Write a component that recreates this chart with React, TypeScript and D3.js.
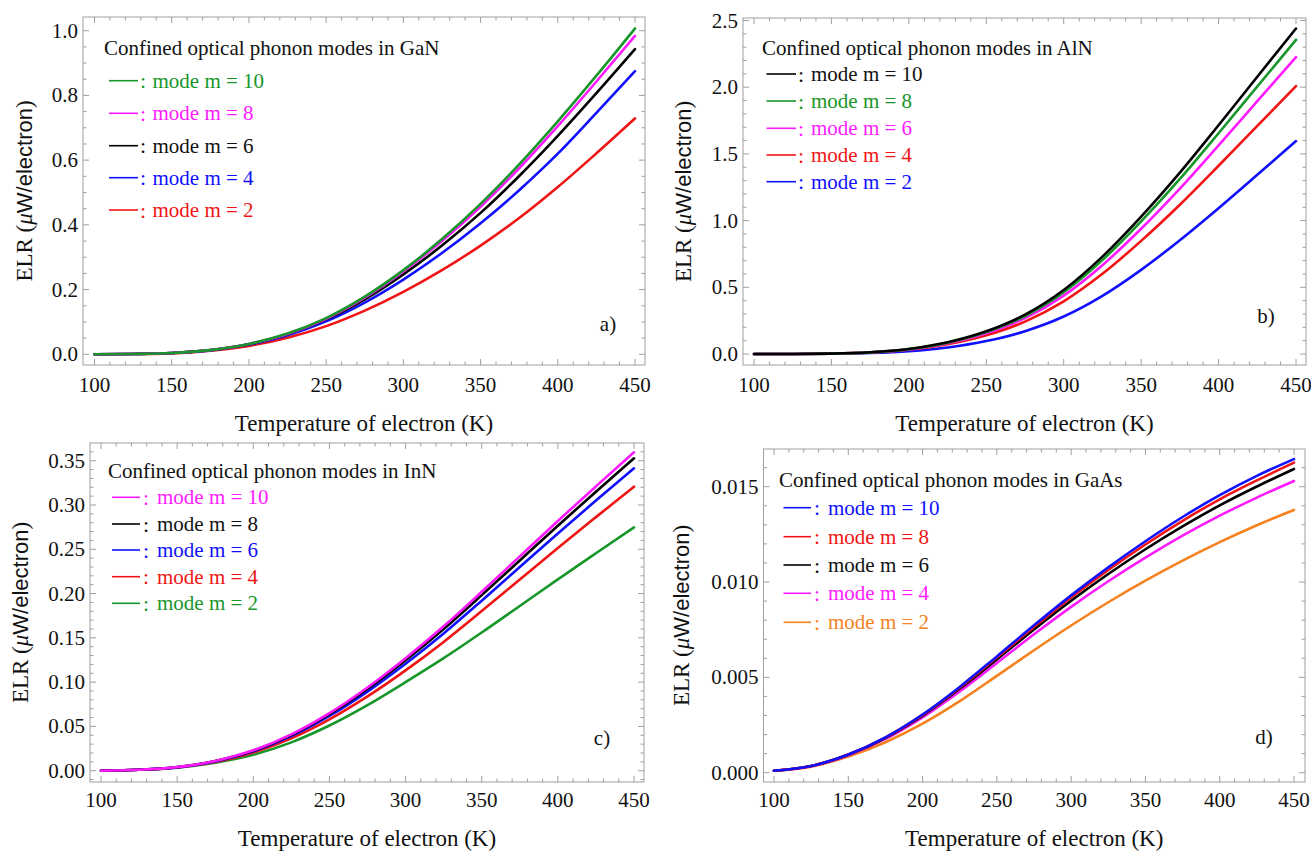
import React from 'react';
import * as d3 from 'd3';

// ---------- data ----------
const temps = [100, 125, 150, 175, 200, 225, 250, 275, 300, 325, 350, 375, 400, 425, 450];
const xTickValues = [100, 150, 200, 250, 300, 350, 400, 450];

// a) GaN
const ganM10 = [0, 0.001, 0.004, 0.013, 0.032, 0.064, 0.112, 0.178, 0.26, 0.356, 0.465, 0.587, 0.72, 0.861, 1.007];
const ganM8 = [0, 0.001, 0.004, 0.013, 0.032, 0.063, 0.11, 0.175, 0.256, 0.35, 0.456, 0.575, 0.705, 0.843, 0.984];
const ganM6 = [0, 0.001, 0.004, 0.013, 0.031, 0.062, 0.108, 0.17, 0.247, 0.336, 0.437, 0.551, 0.675, 0.807, 0.943];
const ganM4 = [0, 0.001, 0.004, 0.012, 0.03, 0.059, 0.102, 0.16, 0.231, 0.313, 0.405, 0.507, 0.62, 0.746, 0.875];
const ganM2 = [0, 0.001, 0.003, 0.011, 0.026, 0.051, 0.087, 0.135, 0.193, 0.26, 0.336, 0.421, 0.517, 0.621, 0.729];

// b) AlN
const alnM10 = [0, 0.0003, 0.003, 0.013, 0.038, 0.088, 0.17, 0.295, 0.48, 0.73, 1.03, 1.36, 1.715, 2.078, 2.44];
const alnM8 = [0, 0.0003, 0.0029, 0.0125, 0.0367, 0.085, 0.164, 0.285, 0.463, 0.704, 0.994, 1.312, 1.655, 2.005, 2.355];
const alnM6 = [0, 0.0003, 0.0027, 0.0119, 0.0347, 0.08, 0.155, 0.269, 0.438, 0.666, 0.939, 1.24, 1.564, 1.895, 2.225];
const alnM4 = [0, 0.0002, 0.0025, 0.0107, 0.0313, 0.0724, 0.14, 0.243, 0.395, 0.601, 0.848, 1.119, 1.411, 1.71, 2.008];
const alnM2 = [0, 0.0002, 0.0018, 0.0075, 0.021, 0.049, 0.097, 0.171, 0.281, 0.436, 0.631, 0.853, 1.093, 1.343, 1.596];

// c) InN
const innM10 = [0, 0.001, 0.004, 0.011, 0.023, 0.041, 0.065, 0.094, 0.127, 0.163, 0.202, 0.242, 0.282, 0.321, 0.3595];
const innM8 = [0, 0.001, 0.004, 0.011, 0.0226, 0.0402, 0.0638, 0.0922, 0.1246, 0.16, 0.1982, 0.2374, 0.2766, 0.315, 0.3527];
const innM6 = [0, 0.001, 0.0038, 0.0105, 0.0219, 0.039, 0.0618, 0.0893, 0.1207, 0.1549, 0.1919, 0.2299, 0.2679, 0.305, 0.3414];
const innM4 = [0, 0.001, 0.0036, 0.0098, 0.0205, 0.0366, 0.058, 0.0839, 0.1133, 0.1454, 0.1802, 0.2159, 0.2515, 0.2863, 0.3207];
const innM2 = [0, 0.001, 0.0035, 0.009, 0.018, 0.032, 0.051, 0.074, 0.1, 0.127, 0.156, 0.186, 0.216, 0.2455, 0.2748];

// d) GaAs
const gaasM10 = [0.0001, 0.00035, 0.00095, 0.00185, 0.00305, 0.0045, 0.0061, 0.00773, 0.0093, 0.01077, 0.01214, 0.01341, 0.01456, 0.01557, 0.01645];
const gaasM8 = [0.0001, 0.00035, 0.00095, 0.00184, 0.00303, 0.00446, 0.00604, 0.00764, 0.00919, 0.01063, 0.01197, 0.01321, 0.01434, 0.01533, 0.01626];
const gaasM6 = [0.0001, 0.00035, 0.00094, 0.00182, 0.00299, 0.0044, 0.00594, 0.00751, 0.00902, 0.01042, 0.01172, 0.01292, 0.01402, 0.01501, 0.01593];
const gaasM4 = [0.0001, 0.00034, 0.00092, 0.00177, 0.0029, 0.00426, 0.00575, 0.00726, 0.0087, 0.01004, 0.01128, 0.01243, 0.01348, 0.01443, 0.0153];
const gaasM2 = [0.0001, 0.00032, 0.00085, 0.0016, 0.00257, 0.00375, 0.00508, 0.00642, 0.00772, 0.00894, 0.01007, 0.01112, 0.01209, 0.01298, 0.01378];

const yTicksA = [0, 0.2, 0.4, 0.6, 0.8, 1.0];
const yTicksB = [0, 0.5, 1.0, 1.5, 2.0, 2.5];
const yTicksC = [0, 0.05, 0.1, 0.15, 0.2, 0.25, 0.3, 0.35];
const yTicksD = [0, 0.005, 0.01, 0.015];

const modeLabels = ['mode m = 10', 'mode m = 8', 'mode m = 6', 'mode m = 4', 'mode m = 2'];

// ---------- styling ----------
const GREEN = '#17962a';
const MAGENTA = '#ff1aff';
const BLACK = '#000000';
const BLUE = '#1010ff';
const RED = '#f01414';
const ORANGE = '#f5821f';

const SERIF = "'Liberation Serif', Tinos, 'Times New Roman', 'Nimbus Roman', 'DejaVu Serif', serif";
const SANS = "'Liberation Sans', Arimo, Arial, 'DejaVu Sans', sans-serif";
const FRAME = '#a0a0a0';

type Series = { label: string; color: string; values: number[] };
type Panel = {
  material: string;
  tag: string;
  frame: { l: number; r: number; t: number; b: number };
  xPx: [number, number];
  yPx: [number, number];
  yTop: number;
  yTicks: number[];
  yMinor: number;
  yDec: number;
  series: Series[];
  legend: { x: number; y: number; rows: number[]; lx0: number; lx1: number; cx: number; tx: number };
  tagPos: [number, number];
  yTitleX: number;
  xLabelY: number;
  xTitleY: number;
};

const mk = (colors: string[], data: number[][]): Series[] =>
  modeLabels.map((label, i) => ({ label, color: colors[i], values: data[i] }));

const panels: Panel[] = [
  {
    material: 'GaN', tag: 'a)',
    frame: { l: 83, r: 645, t: 17, b: 365 },
    xPx: [94.5, 635], yPx: [354.3, 30.7], yTop: 1.0, yTicks: yTicksA, yMinor: 0.05, yDec: 1,
    series: mk([GREEN, MAGENTA, BLACK, BLUE, RED], [ganM10, ganM8, ganM6, ganM4, ganM2]),
    legend: { x: 104, y: 48.3, rows: [80.7, 113.3, 145.7, 177.7, 210], lx0: 109, lx1: 138, cx: 140, tx: 152.5 },
    tagPos: [608, 324], yTitleX: 24, xLabelY: 385, xTitleY: 423,
  },
  {
    material: 'AlN', tag: 'b)',
    frame: { l: 743, r: 1306, t: 18, b: 365 },
    xPx: [754, 1296], yPx: [354, 20.5], yTop: 2.5, yTicks: yTicksB, yMinor: 0.1, yDec: 1,
    series: mk([BLACK, GREEN, MAGENTA, RED, BLUE], [alnM10, alnM8, alnM6, alnM4, alnM2]),
    legend: { x: 762, y: 48.3, rows: [74, 101, 128.3, 155, 181.7], lx0: 766.5, lx1: 796, cx: 798, tx: 811 },
    tagPos: [1266, 316], yTitleX: 683, xLabelY: 385, xTitleY: 423,
  },
  {
    material: 'InN', tag: 'c)',
    frame: { l: 90, r: 644, t: 443, b: 782 },
    xPx: [101, 634], yPx: [770.7, 460.7], yTop: 0.35, yTicks: yTicksC, yMinor: 0.01, yDec: 2,
    series: mk([MAGENTA, BLACK, BLUE, RED, GREEN], [innM10, innM8, innM6, innM4, innM2]),
    legend: { x: 108, y: 470.7, rows: [497.3, 524, 550, 576.7, 603.3], lx0: 112, lx1: 140, cx: 143, tx: 157 },
    tagPos: [602, 738], yTitleX: 20, xLabelY: 800, xTitleY: 838,
  },
  {
    material: 'GaAs', tag: 'd)',
    frame: { l: 763.5, r: 1305, t: 449, b: 782 },
    xPx: [774, 1294], yPx: [772.7, 486.7], yTop: 0.015, yTicks: yTicksD, yMinor: 0.001, yDec: 3,
    series: mk([BLUE, RED, BLACK, MAGENTA, ORANGE], [gaasM10, gaasM8, gaasM6, gaasM4, gaasM2]),
    legend: { x: 779, y: 480, rows: [507.7, 536.7, 565, 593.3, 622.3], lx0: 783.5, lx1: 811, cx: 814, tx: 828 },
    tagPos: [1264, 737], yTitleX: 681, xLabelY: 800, xTitleY: 838,
  },
];

const MAJ = 6;
const MIN = 3.5;
const serifStyle = { fontFamily: SERIF };

function PanelView({ p }: { p: Panel }) {
  const { l, r, t, b } = p.frame;
  const x = d3.scaleLinear().domain([100, 450]).range(p.xPx);
  const y = d3.scaleLinear().domain([0, p.yTop]).range(p.yPx);

  const xMinor = d3.range(0, 700, 10).filter((v) => x(v) > l + 1 && x(v) < r - 1 && v % 50 !== 0);
  const nMinor = Math.round(p.yTop / p.yMinor) + 40;
  const yMinor = d3
    .range(-20, nMinor)
    .map((i) => i * p.yMinor)
    .filter((v) => y(v) < b - 1 && y(v) > t + 1)
    .filter((v) => !p.yTicks.some((mt) => Math.abs(mt - v) < p.yMinor / 10));

  const line = d3
    .line<number>()
    .x((_, i) => x(temps[i]))
    .y((v) => y(v))
    .curve(d3.curveMonotoneX);

  const fmt = d3.format(`.${p.yDec}f`);
  const order = [...p.series].reverse();

  return (
    <g>
      <rect x={l} y={t} width={r - l} height={b - t} fill="none" stroke={FRAME} strokeWidth={1} />
      {xTickValues.map((v) => (
        <g key={'xt' + v}>
          <line x1={x(v)} x2={x(v)} y1={b} y2={b - MAJ} stroke={FRAME} />
          <line x1={x(v)} x2={x(v)} y1={t} y2={t + MAJ} stroke={FRAME} />
        </g>
      ))}
      {xMinor.map((v) => (
        <g key={'xm' + v}>
          <line x1={x(v)} x2={x(v)} y1={b} y2={b - MIN} stroke={FRAME} />
          <line x1={x(v)} x2={x(v)} y1={t} y2={t + MIN} stroke={FRAME} />
        </g>
      ))}
      {p.yTicks.map((v) => (
        <g key={'yt' + v}>
          <line x1={l} x2={l + MAJ} y1={y(v)} y2={y(v)} stroke={FRAME} />
          <line x1={r} x2={r - MAJ} y1={y(v)} y2={y(v)} stroke={FRAME} />
        </g>
      ))}
      {yMinor.map((v, i) => (
        <g key={'ym' + i}>
          <line x1={l} x2={l + MIN} y1={y(v)} y2={y(v)} stroke={FRAME} />
          <line x1={r} x2={r - MIN} y1={y(v)} y2={y(v)} stroke={FRAME} />
        </g>
      ))}
      {xTickValues.map((v) => (
        <text key={'xl' + v} x={x(v)} y={p.xLabelY} textAnchor="middle" dominantBaseline="central"
          style={serifStyle} fontSize={21} fill="#111">
          {v}
        </text>
      ))}
      {p.yTicks.map((v) => (
        <text key={'yl' + v} x={l - 5} y={y(v)} textAnchor="end" dominantBaseline="central"
          style={serifStyle} fontSize={21} fill="#111">
          {fmt(v)}
        </text>
      ))}
      <text x={(l + r) / 2} y={p.xTitleY} textAnchor="middle" dominantBaseline="central"
        style={serifStyle} fontSize={23} fill="#111">
        Temperature of electron (K)
      </text>
      <text transform={`translate(${p.yTitleX},${(t + b) / 2}) rotate(-90)`} textAnchor="middle"
        dominantBaseline="central" style={serifStyle} fontSize={23} fill="#111">
        <tspan>ELR (</tspan>
        <tspan fontStyle="italic">μ</tspan>
        <tspan style={{ fontFamily: SANS }} fontSize={22}>W/electron</tspan>
        <tspan>)</tspan>
      </text>
      <clipPath id={`clip-${p.material}`}>
        <rect x={l} y={t} width={r - l} height={b - t} />
      </clipPath>
      <g clipPath={`url(#clip-${p.material})`}>
        {order.map((s) => (
          <path key={s.label} d={line(s.values) || ''} fill="none" stroke={s.color} strokeWidth={2.6}
            strokeLinejoin="round" strokeLinecap="round" />
        ))}
      </g>
      <text x={p.legend.x} y={p.legend.y} dominantBaseline="central" style={serifStyle} fontSize={21} fill="#111">
        {`Confined optical phonon modes in ${p.material}`}
      </text>
      {p.series.map((s, i) => {
        const cy = p.legend.rows[i];
        const c = s.color === BLACK ? '#111' : s.color;
        return (
          <g key={'lg' + i}>
            <line x1={p.legend.lx0} x2={p.legend.lx1} y1={cy} y2={cy} stroke={s.color} strokeWidth={1.6} />
            <text x={p.legend.cx} y={cy} dominantBaseline="central" style={serifStyle} fontSize={22} fill={c}>
              :
            </text>
            <text x={p.legend.tx} y={cy} dominantBaseline="central" style={serifStyle} fontSize={21} fill={c}>
              {s.label}
            </text>
          </g>
        );
      })}
      <text x={p.tagPos[0]} y={p.tagPos[1]} textAnchor="middle" dominantBaseline="central"
        style={serifStyle} fontSize={21} fill="#111">
        {p.tag}
      </text>
    </g>
  );
}

export default function App() {
  return (
    <div style={{ position: 'absolute', left: 0, top: 0 }}>
      <svg width={1311} height={851} viewBox="0 0 1311 851" style={{ display: 'block', background: '#fff', fontFamily: SERIF }}>
        <rect x={0} y={0} width={1311} height={851} fill="#fff" />
        {panels.map((p) => (
          <PanelView key={p.material} p={p} />
        ))}
      </svg>
    </div>
  );
}
